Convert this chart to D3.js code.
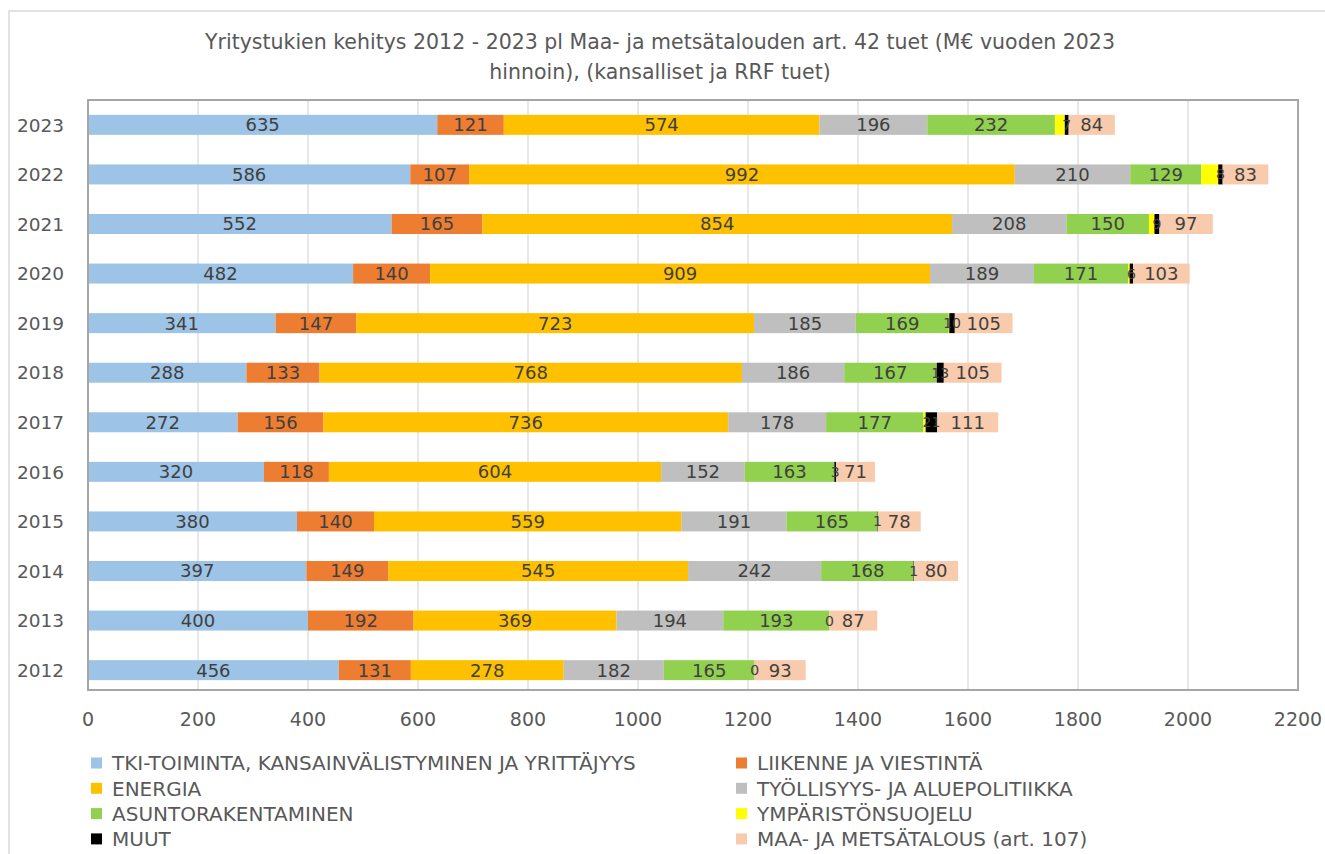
<!DOCTYPE html>
<html>
<head>
<meta charset="utf-8">
<script src="https://cdn.jsdelivr.net/npm/d3@7"></script>
<style>
  body { margin: 0; background: #fff; }
  text { font-family: "DejaVu Sans", sans-serif; }
</style>
</head>
<body>
<div class="container"></div>
<script>
  // data (M€, 2023 prices)
  var years = ["2023", "2022", "2021", "2020", "2019", "2018", "2017", "2016", "2015", "2014", "2013", "2012"];
  var seriesNames = ["TKI-TOIMINTA, KANSAINVÄLISTYMINEN JA YRITTÄJYYS", "LIIKENNE JA VIESTINTÄ",
    "ENERGIA", "TYÖLLISYYS- JA ALUEPOLITIIKKA", "ASUNTORAKENTAMINEN", "YMPÄRISTÖNSUOJELU",
    "MUUT", "MAA- JA METSÄTALOUS (art. 107)"];
  var colors = ["#9dc3e6", "#ed7d31", "#ffc000", "#bfbfbf", "#92d050", "#ffff00", "#000000", "#f8cbad"];

  var tki = [635, 586, 552, 482, 341, 288, 272, 320, 380, 397, 400, 456];
  var liikenne = [121, 107, 165, 140, 147, 133, 156, 118, 140, 149, 192, 131];
  var energia = [574, 992, 854, 909, 723, 768, 736, 604, 559, 545, 369, 278];
  var tyollisyys = [196, 210, 208, 189, 185, 186, 178, 152, 191, 242, 194, 182];
  var asunto = [232, 129, 150, 171, 169, 167, 177, 163, 165, 168, 193, 165];
  var ymparisto = [18, 31, 10, 3, 1, 1, 4, 0, 0, 0, 0, 0];
  var muut = [7, 8, 9, 6, 10, 13, 21, 3, 1, 1, 0, 0];
  var maa = [84, 83, 97, 103, 105, 105, 111, 71, 78, 80, 87, 93];

  var xTicks = [0, 200, 400, 600, 800, 1000, 1200, 1400, 1600, 1800, 2000, 2200];

  var allSeries = [tki, liikenne, energia, tyollisyys, asunto, ymparisto, muut, maa];
  var keys = d3.range(allSeries.length);
  var rows = years.map(function(y, i) {
    var r = { year: y };
    keys.forEach(function(k) { r[k] = allSeries[k][i]; });
    return r;
  });

  var width = 1325, height = 854;
  var plot = { left: 88, right: 1298, top: 100, bottom: 690 };

  var svg = d3.select(".container").append("svg")
    .attr("width", width)
    .attr("height", height);

  // chart border (only top and left are visible in the reference)
  svg.append("path")
    .attr("d", "M9,854V11H1325")
    .attr("fill", "none")
    .attr("stroke", "#d9d9d9")
    .attr("stroke-width", 1.5);

  var x = d3.scaleLinear().domain([0, 2200]).range([plot.left, plot.right]);
  var y = d3.scaleBand().domain(years).range([plot.top, plot.bottom + 5]).paddingInner(0.597).paddingOuter(0.3);

  // gridlines
  svg.append("g").selectAll("line")
    .data(xTicks.slice(1, -1))
    .enter().append("line")
    .attr("x1", function(d) { return x(d); })
    .attr("x2", function(d) { return x(d); })
    .attr("y1", plot.top)
    .attr("y2", plot.bottom)
    .attr("stroke", "#d9d9d9")
    .attr("stroke-width", 1.2);

  var stack = d3.stack().keys(keys);
  var layers = stack(rows);

  var layer = svg.selectAll(".layer")
    .data(layers)
    .enter().append("g")
    .attr("class", "layer")
    .attr("fill", function(d) { return colors[d.key]; });

  layer.selectAll("rect")
    .data(function(d) { return d; })
    .enter().append("rect")
    .attr("x", function(d) { return x(d[0]); })
    .attr("y", function(d) { return y(d.data.year); })
    .attr("width", function(d) { return x(d[1]) - x(d[0]); })
    .attr("height", y.bandwidth());

  // data labels (yellow series has none in the reference)
  var labelLayers = layers.filter(function(l) { return l.key !== 5; });
  svg.selectAll(".lbl")
    .data(labelLayers)
    .enter().append("g")
    .attr("class", "lbl")
    .selectAll("text")
    .data(function(d) { return d; })
    .enter().append("text")
    .attr("x", function(d) { return x((d[0] + d[1]) / 2); })
    .attr("y", function(d) { return y(d.data.year) + y.bandwidth() / 2; })
    .attr("dy", "0.36em")
    .attr("text-anchor", "middle")
    .attr("font-size", function(d) { return (d[1] - d[0]) < 30 ? 14 : 18; })
    .attr("fill", "#404040")
    .text(function(d) { return d[1] - d[0]; });

  // plot frame
  svg.append("rect")
    .attr("x", plot.left)
    .attr("y", plot.top)
    .attr("width", plot.right - plot.left)
    .attr("height", plot.bottom - plot.top)
    .attr("fill", "none")
    .attr("stroke", "#a6a6a6")
    .attr("stroke-width", 2);

  // y axis labels
  svg.append("g").selectAll("text")
    .data(years)
    .enter().append("text")
    .attr("x", 64)
    .attr("y", function(d) { return y(d) + y.bandwidth() / 2; })
    .attr("dy", "0.36em")
    .attr("text-anchor", "end")
    .attr("font-size", 18.5)
    .attr("fill", "#595959")
    .text(function(d) { return d; });

  // x axis labels
  svg.append("g").selectAll("text")
    .data(xTicks)
    .enter().append("text")
    .attr("x", function(d) { return x(d); })
    .attr("y", 719)
    .attr("dy", "0.36em")
    .attr("text-anchor", "middle")
    .attr("font-size", 19)
    .attr("fill", "#595959")
    .text(function(d) { return d; });

  // title
  var title = svg.append("text")
    .attr("x", 660)
    .attr("y", 42)
    .attr("text-anchor", "middle")
    .attr("font-size", 20.5)
    .attr("fill", "#595959");
  title.append("tspan").attr("x", 660).attr("dy", "0.36em")
    .text("Yritystukien kehitys 2012 - 2023 pl Maa- ja metsätalouden art. 42 tuet (M€ vuoden 2023");
  title.append("tspan").attr("x", 660).attr("dy", 30)
    .text("hinnoin), (kansalliset ja RRF tuet)");

  // legend, two columns filled row by row
  var legend = svg.append("g").selectAll("g")
    .data(seriesNames)
    .enter().append("g")
    .attr("transform", function(d, i) {
      return "translate(" + (i % 2 === 0 ? 91 : 736) + "," + (763 + Math.floor(i / 2) * 25.3) + ")";
    });

  legend.append("rect")
    .attr("x", 0)
    .attr("y", -5.5)
    .attr("width", 11)
    .attr("height", 11)
    .attr("fill", function(d, i) { return colors[i]; });

  legend.append("text")
    .attr("x", 21)
    .attr("dy", "0.36em")
    .attr("font-size", 20)
    .attr("fill", "#595959")
    .text(function(d) { return d; });
</script>
</body>
</html>
